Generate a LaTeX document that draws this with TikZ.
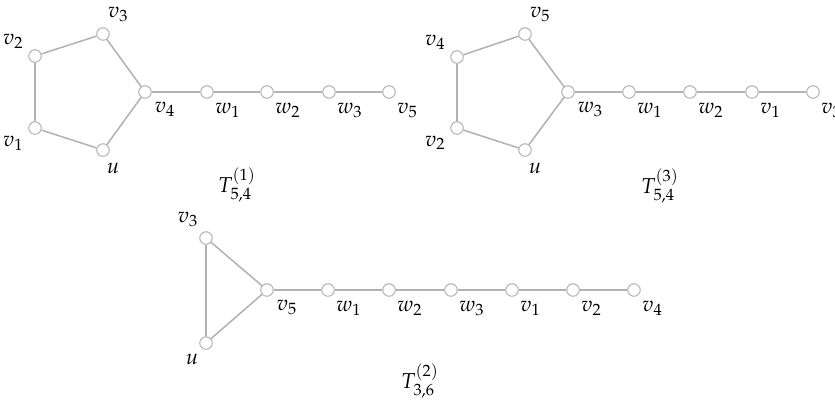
\documentclass[tikz,border=0pt]{standalone}
\usepackage{mathpazo}
\tikzset{
  vtx/.style={circle,draw=gray!55,fill=white,inner sep=0pt,minimum size=6.5pt,line width=0.6pt},
  edg/.style={gray!60,line width=0.8pt},
  every label/.style={inner sep=1pt,font=\fontsize{11.2}{13}\selectfont},
  title/.style={font=\fontsize{11.2}{13}\selectfont},
  label distance=2pt
}
\begin{document}
\begin{tikzpicture}[x=0.0183cm,y=-0.0183cm]
\useasboundingbox (0,0) rectangle (835,401);
% T_{5,4}^{(1)}
\node[vtx,label={150:$v_2$}] (a2) at (35,56) {};
\node[vtx,label={75:$v_3$}] (a3) at (103,34) {};
\node[vtx,label={-150:$v_1$}] (a1) at (35,128) {};
\node[vtx,label={-82:$u$}] (au) at (103,150) {};
\node[vtx,label={-45:$v_4$}] (a4) at (145,92) {};
\node[vtx,label={-55:$w_1$}] (aw1) at (207,92) {};
\node[vtx,label={-55:$w_2$}] (aw2) at (267,92) {};
\node[vtx,label={-55:$w_3$}] (aw3) at (329,92) {};
\node[vtx,label={-55:$v_5$}] (a5) at (389,92) {};
\draw[edg] (au) -- (a1) -- (a2) -- (a3) -- (a4) -- (au);
\draw[edg] (a4) -- (aw1) -- (aw2) -- (aw3) -- (a5);
\node[title] (ta) at (237,185) {$T_{5,4}^{(1)}$};
% T_{5,4}^{(3)}
\node[vtx,label={150:$v_4$}] (b4) at (457,57) {};
\node[vtx,label={75:$v_5$}] (b5) at (525,34) {};
\node[vtx,label={-150:$v_2$}] (b2) at (457,128) {};
\node[vtx,label={-82:$u$}] (bu) at (525,150) {};
\node[vtx,label={-45:$w_3$}] (bw3) at (568,92) {};
\node[vtx,label={-55:$w_1$}] (bw1) at (629,92) {};
\node[vtx,label={-55:$w_2$}] (bw2) at (690,92) {};
\node[vtx,label={-55:$v_1$}] (b1) at (752,92) {};
\node[vtx,label={-55:$v_3$}] (b3) at (813,92) {};
\draw[edg] (bu) -- (b2) -- (b4) -- (b5) -- (bw3) -- (bu);
\draw[edg] (bw3) -- (bw1) -- (bw2) -- (b1) -- (b3);
\node[title] (tb) at (660,186) {$T_{5,4}^{(3)}$};
% T_{3,6}^{(2)}
\node[vtx,label={120:$v_3$}] (c3) at (206,238) {};
\node[vtx,label={-120:$u$}] (cu) at (206,343) {};
\node[vtx,label={-45:$v_5$}] (c5) at (267,290) {};
\node[vtx,label={-55:$w_1$}] (cw1) at (328,290) {};
\node[vtx,label={-55:$w_2$}] (cw2) at (389,290) {};
\node[vtx,label={-55:$w_3$}] (cw3) at (451,290) {};
\node[vtx,label={-55:$v_1$}] (c1) at (512,290) {};
\node[vtx,label={-55:$v_2$}] (c2) at (573,290) {};
\node[vtx,label={-55:$v_4$}] (c4) at (634,290) {};
\draw[edg] (cu) -- (c3) -- (c5) -- (cu);
\draw[edg] (c5) -- (cw1) -- (cw2) -- (cw3) -- (c1) -- (c2) -- (c4);
\node[title] (tc) at (420,381) {$T_{3,6}^{(2)}$};
\end{tikzpicture}
\end{document}
